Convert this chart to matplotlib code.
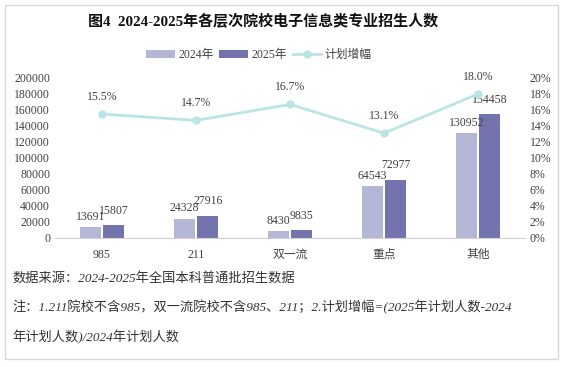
import matplotlib.pyplot as plt
import numpy as np
from matplotlib.patches import Rectangle

plt.rcParams['font.family'] = ['Liberation Serif', 'Noto Sans CJK SC', 'DejaVu Sans']

categories = ['985', '211', '双一流', '重点', '其他']
n2024 = [13691, 24328, 8430, 64543, 130952]
n2025 = [15807, 27916, 9835, 72977, 154458]
growth = [15.5, 14.7, 16.7, 13.1, 18.0]

c24 = '#b5b7d7'
c25 = '#7373ae'
cline = '#b9e6e4'

fig = plt.figure(figsize=(5.63, 3.67), dpi=100)
fig.patches.append(Rectangle((5 / 563, 8 / 367), 553 / 563, 354 / 367, transform=fig.transFigure,
                             fill=False, edgecolor='#d9d9d9', linewidth=1))

ax = fig.add_axes([55 / 563, 1 - 238 / 367, 470 / 563, 160 / 367])
x = np.arange(len(categories))
w = 0.22
b1 = ax.bar(x - w / 2 - 0.015, n2024, w, color=c24, label='2024年', zorder=2)
b2 = ax.bar(x + w / 2 + 0.015, n2025, w, color=c25, label='2025年', zorder=2)
for rect, v in zip(b1, n2024):
    ax.annotate(str(v), (rect.get_x() + rect.get_width() / 2, v), xytext=(0, 3),
                textcoords='offset points', ha='center', va='bottom', fontsize=8.5, color='#404040')
for rect, v in zip(b2, n2025):
    ax.annotate(str(v), (rect.get_x() + rect.get_width() / 2, v), xytext=(0, 6),
                textcoords='offset points', ha='center', va='bottom', fontsize=8.5, color='#404040')

ax.set_xlim(-0.5, len(categories) - 0.5)
ax.set_ylim(0, 200000)
ax.set_yticks(range(0, 200001, 20000))
ax.set_xticks(x)
ax.set_xticklabels(categories, fontsize=8.5, color='#404040')
ax.tick_params(axis='y', labelsize=8.5, colors='#404040', length=0)
ax.tick_params(axis='x', length=0, pad=8)
for s in ['top', 'right', 'left']:
    ax.spines[s].set_visible(False)
ax.spines['bottom'].set_color('#d0d0d0')

ax2 = ax.twinx()
ln, = ax2.plot(x, growth, color=cline, linewidth=2, marker='o', markersize=5, label='计划增幅', zorder=3)
for xi, g in zip(x, growth):
    ax2.annotate(f'{g:.1f}%', (xi, g), xytext=(0, 8), textcoords='offset points',
                 ha='center', va='bottom', fontsize=8.5, color='#404040')
ax2.set_ylim(0, 20)
ax2.set_yticks(range(0, 21, 2))
ax2.set_yticklabels([f'{t}%' for t in range(0, 21, 2)])
ax2.tick_params(axis='y', labelsize=8.5, colors='#404040', length=0)
for s in ['top', 'right', 'left', 'bottom']:
    ax2.spines[s].set_visible(False)

fig.text(0.468, 1 - 22 / 367, '图4  2024-2025年各层次院校电子信息类专业招生人数', ha='center', va='center',
         fontsize=10.8, fontweight='bold', color='#111111')
fig.legend(handles=[b1, b2, ln], loc='center', bbox_to_anchor=(0.46, 1 - 55 / 367), ncol=3, frameon=False,
           fontsize=8.5, handlelength=2.4, handletextpad=0.3, columnspacing=0.5, labelcolor='#404040')

notes = ['数据来源：2024-2025年全国本科普通批招生数据',
         '注：1.211院校不含985，双一流院校不含985、211；2.计划增幅=(2025年计划人数-2024',
         '年计划人数)/2024年计划人数']
for i, t in enumerate(notes):
    fig.text(12 / 563, 1 - (278 + 29.5 * i) / 367, t, ha='left', va='center', fontsize=9.5,
             style='italic', color='#333333')

fig.savefig('out.png', dpi=100)
